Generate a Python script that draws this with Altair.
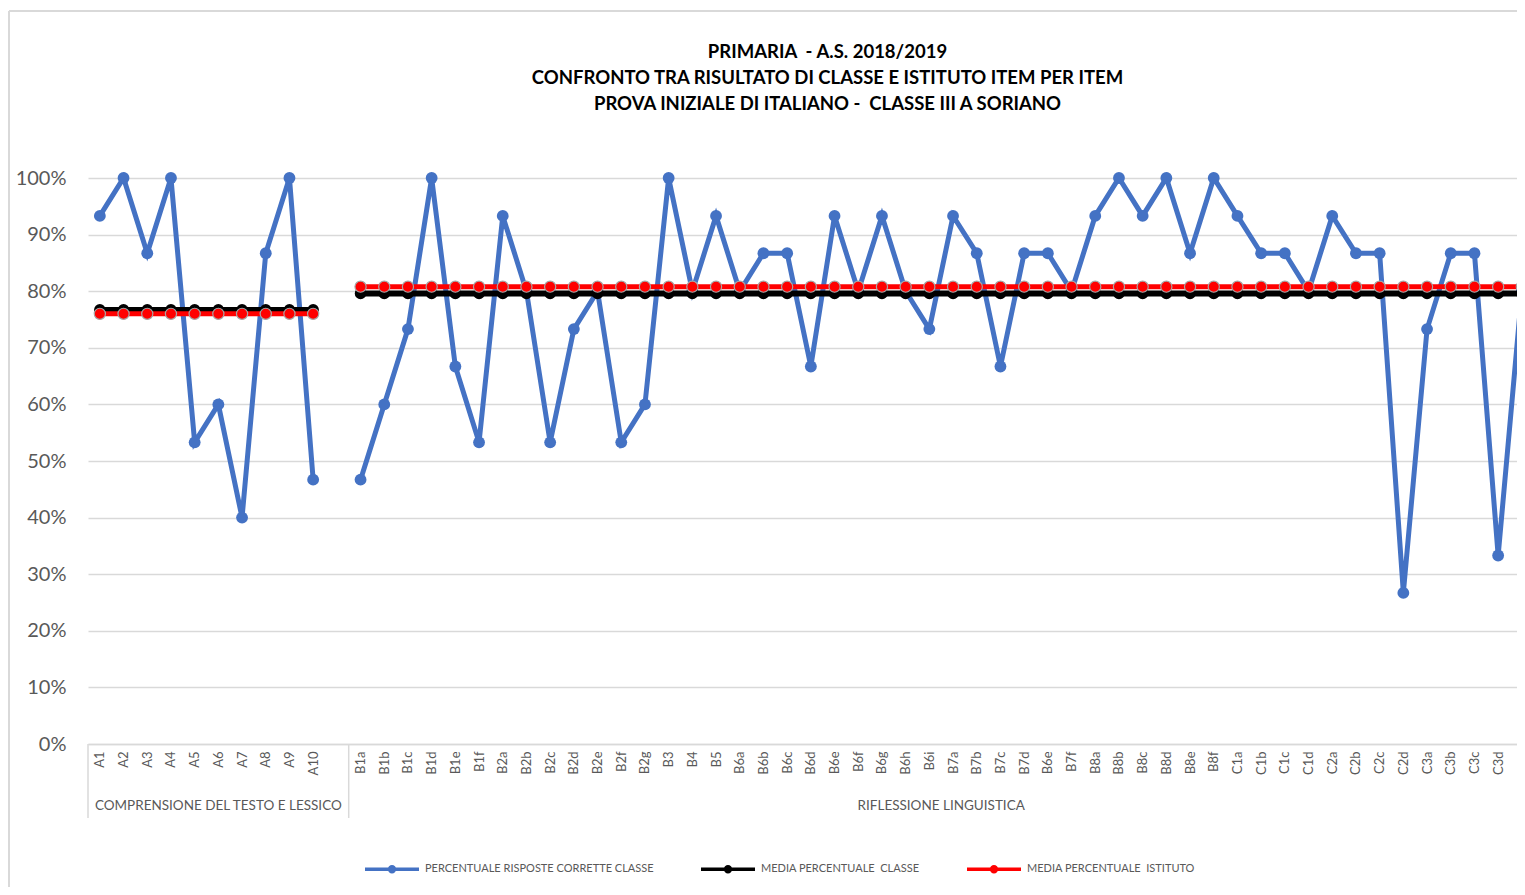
import json
import altair as alt
import pandas as pd

# ---------------- data ----------------
gruppi = ["COMPRENSIONE DEL TESTO E LESSICO", "RIFLESSIONE LINGUISTICA"]

item_A = ["A1", "A2", "A3", "A4", "A5", "A6", "A7", "A8", "A9", "A10"]
item_B = ["B1a", "B1b", "B1c", "B1d", "B1e", "B1f", "B2a", "B2b", "B2c", "B2d",
          "B2e", "B2f", "B2g", "B3", "B4", "B5", "B6a", "B6b", "B6c", "B6d",
          "B6e", "B6f", "B6g", "B6h", "B6i", "B7a", "B7b", "B7c", "B7d", "B6e",
          "B7f", "B8a", "B8b", "B8c", "B8d", "B8e", "B8f", "C1a", "C1b", "C1c",
          "C1d", "C2a", "C2b", "C2c", "C2d", "C3a", "C3b", "C3c", "C3d", "C3e"]

perc_classe_A = [93.3, 100, 86.7, 100, 53.3, 60, 40, 86.7, 100, 46.7]
perc_classe_B = [46.7, 60, 73.3, 100, 66.7, 53.3, 93.3, 80, 53.3, 73.3,
                 80, 53.3, 60, 100, 80, 93.3, 80, 86.7, 86.7, 66.7,
                 93.3, 80, 93.3, 80, 73.3, 93.3, 86.7, 66.7, 86.7, 86.7,
                 80, 93.3, 100, 93.3, 100, 86.7, 100, 93.3, 86.7, 86.7,
                 80, 93.3, 86.7, 86.7, 26.7, 73.3, 86.7, 86.7, 33.3, 80]

media_classe = [76.7, 79.6]      # per gruppo
media_istituto = [76.0, 80.8]    # per gruppo

serie = ["PERCENTUALE RISPOSTE CORRETTE CLASSE",
         "MEDIA PERCENTUALE \u00a0CLASSE",
         "MEDIA PERCENTUALE \u00a0ISTITUTO"]
colori = ["#4472C4", "#000000", "#FF0000"]

titolo = ["PRIMARIA \u00a0- A.S. 2018/2019",
          "CONFRONTO TRA RISULTATO DI CLASSE E ISTITUTO ITEM PER ITEM",
          "PROVA INIZIALE DI ITALIANO - \u00a0CLASSE III A SORIANO"]

y_ticks = [0, 10, 20, 30, 40, 50, 60, 70, 80, 90, 100]

# ---------------- build tables ----------------
items_per_group = [item_A, item_B]
vals_per_group = [perc_classe_A, perc_classe_B]
slots_per_group = [len(item_A) + 1, len(item_B)]   # a blank category closes group A

rows, grp_rows, labels = [], [], []
start = 0
for g, (its, vals) in enumerate(zip(items_per_group, vals_per_group)):
    n_slots = slots_per_group[g]
    grp_rows.append({"gruppo": gruppi[g], "pos": start - 0.5,
                     "centro": start - 0.5 + n_slots / 2})
    for i, (it, v) in enumerate(zip(its, vals)):
        p = start + i
        rows.append({"pos": p, "item": it, "gruppo": gruppi[g], "serie": serie[0], "valore": v})
        rows.append({"pos": p, "item": it, "gruppo": gruppi[g], "serie": serie[1], "valore": media_classe[g]})
        rows.append({"pos": p, "item": it, "gruppo": gruppi[g], "serie": serie[2], "valore": media_istituto[g]})
    labels += its + [""] * (n_slots - len(its))
    start += n_slots

df = pd.DataFrame(rows)
gdf = pd.DataFrame(grp_rows)
tick_pos = sorted(df["pos"].unique().tolist())

# ---------------- layout ----------------
W, H = 1429, 566
SLOT = 23.7
x_dom = [-0.5, -0.5 + W / SLOT]
FONT = "Lato"
GRAY_TXT = "#595959"
GRID = "#d9d9d9"

x_scale = alt.Scale(domain=x_dom, nice=False, zero=False)
y_scale = alt.Scale(domain=[0, 100], nice=False)
x_axis = alt.Axis(values=tick_pos, labelExpr=f"{json.dumps(labels)}[datum.value]",
                  labelAngle=270, labelFontSize=13, labelColor=GRAY_TXT,
                  labelFont=FONT, labelPadding=7, labelOverlap=False,
                  labelFlush=False, labelBound=False, ticks=False, grid=False,
                  domainColor=GRID, domainWidth=1.5, title=None)
y_axis = alt.Axis(values=y_ticks, labelExpr="datum.value + '%'",
                  labelFontSize=20, labelColor=GRAY_TXT, labelFont=FONT,
                  labelPadding=22, ticks=False, domain=False, labelOverlap=False,
                  gridColor=GRID, gridWidth=1.3, title=None)
x_enc = alt.X("pos:Q", scale=x_scale, axis=x_axis)
y_enc = alt.Y("valore:Q", scale=y_scale, axis=y_axis)

sym_path = "M-1,0H1M0.09,0A0.09,0.09,0,1,1,-0.09,0A0.09,0.09,0,1,1,0.09,0Z"
stroke_enc = alt.Stroke("serie:N",
                        scale=alt.Scale(domain=serie, range=colori),
                        sort=serie,
                        legend=alt.Legend(title=None, orient="none", direction="horizontal",
                                          legendX=275, legendY=662,
                                          symbolType=sym_path, symbolSize=2916,
                                          symbolStrokeWidth=3.5, labelFontSize=11,
                                          labelFont=FONT, labelColor=GRAY_TXT, labelLimit=0,
                                          labelOffset=4, columnPadding=40))

base = alt.Chart(df)

border = alt.Chart(alt.Data(values=[{}])).mark_rule(color=GRID, strokeWidth=2).encode(
    x=alt.value(-79), y=alt.value(-167), y2=alt.value(H + 150))
border_top = alt.Chart(alt.Data(values=[{}])).mark_rule(color=GRID, strokeWidth=2).encode(
    x=alt.value(-79), x2=alt.value(W + 10), y=alt.value(-167))

separators = alt.Chart(gdf).mark_rule(color=GRID, strokeWidth=1.5).encode(
    x=x_enc, y=alt.value(H), y2=alt.value(H + 74))
group_text = alt.Chart(gdf).mark_text(font=FONT, fontSize=13.5, color=GRAY_TXT, baseline="middle").encode(
    x=alt.X("centro:Q", scale=x_scale, axis=x_axis),
    y=alt.value(H + 62), text="gruppo:N")

def line_layer(s, width):
    return base.transform_filter(alt.datum.serie == s).mark_line(strokeWidth=width).encode(
        x=x_enc, y=y_enc, stroke=stroke_enc, detail="gruppo:N")

def pts_layer(s, size, color, **kw):
    return base.transform_filter(alt.datum.serie == s).mark_circle(
        size=size, opacity=1, color=color, **kw).encode(x=x_enc, y=y_enc)

blue_line = line_layer(serie[0], 5)
blue_pts = pts_layer(serie[0], 140, colori[0])
black_line = line_layer(serie[1], 6)
black_pts = pts_layer(serie[1], 135, colori[1])
red_line = line_layer(serie[2], 5)
red_pts = pts_layer(serie[2], 125, colori[2], stroke="#a6a6a6", strokeWidth=1.2)

chart = alt.layer(
    blue_line, border, border_top, separators, group_text,
    blue_pts, black_line, black_pts, red_line, red_pts
).properties(
    width=W, height=H,
    background="white",
    autosize=alt.AutoSizeParams(type="none"),
    padding={"left": 80, "top": 170, "right": 0, "bottom": 143},
    title=alt.TitleParams(
        text=titolo, font=FONT, fontSize=18.5, fontWeight="bold", color="#000000",
        anchor="middle", frame="group", dx=25, offset=-122, lineHeight=26,
        baseline="bottom"),
).configure_view(stroke=None).configure_axis(labelOverlap=False)

chart.save("out.html", embed_options={"renderer": "svg", "actions": False})
